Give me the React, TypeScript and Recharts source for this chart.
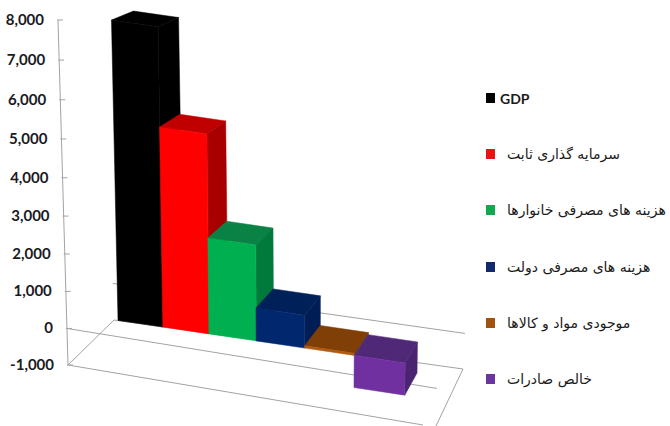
import { Bar, BarChart, Legend, ReferenceArea, ReferenceLine, XAxis, YAxis } from "recharts";

const categories = [
  "GDP",
  "سرمایه گذاری ثابت",
  "هزینه های مصرفی خانوارها",
  "هزینه های مصرفی دولت",
  "موجودی مواد و کالاها",
  "خالص صادرات",
];
const values = [7800, 5270, 2570, 890, 60, -880];
const yTicks = [8000, 7000, 6000, 5000, 4000, 3000, 2000, 1000, 0, -1000];

const frontColors = ["#000000", "#fe0000", "#00b050", "#01286e", "#b05a10", "#7030a0"];
const topColors = ["#000000", "#c00000", "#0a8245", "#00205a", "#7f3f06", "#4f2878"];
const sideColors = ["#000000", "#a80000", "#007a3a", "#001e55", "#6b3505", "#4a2470"];
const legendColors = ["#000000", "#ee1111", "#12a851", "#12296b", "#a0520f", "#6a35a0"];

const data = categories.map((name, i) => ({ name, value: values[i] }));

const WIDTH = 670;
const HEIGHT = 426;
const PLOT = { top: 20, bottom: 365, left: 118, right: 405 };
const ZERO_Y = PLOT.top + ((PLOT.bottom - PLOT.top) * 8) / 9;
const GRID = "#a3a3a3";

// fake 3D: plot coordinates from the scales are bent into the tilted view
const bow = (py: number) => 0.00015 * (py - PLOT.top) * (PLOT.bottom - py);
const narrow = (px: number) => 0.00026 * (px - PLOT.left) * (PLOT.right - px);

function project(rawX: number, py: number) {
  const px = rawX - narrow(rawX);
  const lean = (300 - px) * 0.00012;
  return [px - lean * (ZERO_Y - py), py + bow(py) + 0.148 * (px - 172)];
}

function withDepth([sx, sy]: number[]) {
  return [sx + 22 - (sx - 111) * 0.033, sy - (9 + (sy - 20) * 0.035)];
}

// the value axis stands at the left front corner of the box
function axisPoint(py: number) {
  return [58 + (py - PLOT.top) * 0.029, py + bow(py)];
}

const pts = (list: number[][]) => list.map((p) => p.join(",")).join(" ");

function Bar3D(props: any) {
  const { x, y, width, height, index } = props;
  const top = Math.min(y, y + height);
  const bottom = Math.max(y, y + height);
  const fl = project(x, top);
  const fr = project(x + width, top);
  const br = project(x + width, bottom);
  const bl = project(x, bottom);
  return (
    <g strokeWidth={0.5}>
      <polygon points={pts([fl, fr, withDepth(fr), withDepth(fl)])} fill={topColors[index]} stroke={topColors[index]} />
      <polygon points={pts([fr, withDepth(fr), withDepth(br), br])} fill={sideColors[index]} stroke={sideColors[index]} />
      <polygon points={pts([fl, fr, br, bl])} fill={frontColors[index]} stroke={frontColors[index]} />
    </g>
  );
}

function AxisTick(props: any) {
  const { y, payload } = props;
  const [ax, ay] = axisPoint(y);
  return (
    <g>
      <line x1={ax - 1} y1={ay} x2={ax + 5} y2={ay} stroke={GRID} />
      <text
        x={ax - 14}
        y={ay + 1}
        textAnchor="end"
        dominantBaseline="middle"
        fontFamily="Lato"
        fontWeight={700}
        fontSize={15}
        fill="#1a1a24"
      >
        {payload.value.toLocaleString("en-US")}
      </text>
    </g>
  );
}

function AxisLine(props: any) {
  const { y, height } = props;
  const [x1, y1] = axisPoint(y);
  const [x2, y2] = axisPoint(y + height);
  return <line x1={x1} y1={y1} x2={x2} y2={y2} stroke={GRID} />;
}

function Segment({ a, b }: { a: number[]; b: number[] }) {
  return <line x1={a[0]} y1={a[1]} x2={b[0]} y2={b[1]} stroke={GRID} />;
}

function ZeroFloor(props: any) {
  const start = axisPoint(props.y1);
  const back = [start[0] + 46, start[1] - 45];
  return (
    <g>
      <Segment a={start} b={[start[0] + 370, start[1] + 60]} />
      <Segment a={back} b={[back[0] + 352, back[1] + 50]} />
    </g>
  );
}

function BottomFloor(props: any) {
  const start = axisPoint(props.y1);
  const back = [start[0] + 46, start[1] - 45];
  const backEnd = [back[0] + 349, back[1] + 49];
  return (
    <g>
      <Segment a={start} b={[start[0] + 355, start[1] + 60]} />
      <Segment a={start} b={back} />
      <Segment a={back} b={backEnd} />
      <Segment a={backEnd} b={[backEnd[0] - 27, backEnd[1] + 57]} />
    </g>
  );
}

function FloorLegend() {
  return (
    <div style={{ direction: "ltr" }}>
      {categories.map((name, i) => (
        <div key={name} style={{ height: 56.2, display: "flex", alignItems: "center" }}>
          <span style={{ width: 9, height: 10, background: legendColors[i], flexShrink: 0 }} />
          <span
            style={{
              marginLeft: i === 0 ? 5 : 12,
              fontFamily: i === 0 ? "Lato" : "DejaVu Sans",
              fontWeight: i === 0 ? 700 : 400,
              fontSize: 14,
              color: "#1a1a1a",
              whiteSpace: "nowrap",
            }}
          >
            {name}
          </span>
        </div>
      ))}
    </div>
  );
}

export default function App() {
  return (
    <div style={{ position: "absolute", left: 0, top: 0, width: WIDTH, height: HEIGHT, background: "#fff", overflow: "hidden" }}>
      <BarChart
        width={WIDTH}
        height={HEIGHT}
        data={data}
        barCategoryGap={0}
        margin={{ top: PLOT.top, bottom: HEIGHT - PLOT.bottom, left: 0, right: WIDTH - PLOT.right }}
      >
        <XAxis dataKey="name" hide />
        <YAxis
          width={PLOT.left}
          domain={[-1000, 8000]}
          ticks={yTicks}
          interval={0}
          axisLine={false}
          tickLine={false}
          tick={AxisTick}
        />
        <ReferenceArea y1={-1000} y2={8000} shape={AxisLine} ifOverflow="visible" zIndex={-100} />
        <ReferenceLine y={0} shape={ZeroFloor} ifOverflow="visible" zIndex={-100} />
        <ReferenceLine y={-1000} shape={BottomFloor} ifOverflow="visible" zIndex={-100} />
        <Bar dataKey="value" shape={Bar3D} isAnimationActive={false} />
        <Legend
          layout="horizontal"
          verticalAlign="middle"
          align="center"
          content={FloorLegend}
          wrapperStyle={{ left: 486, top: 70, width: 184, bottom: "auto" }}
        />
      </BarChart>
    </div>
  );
}
